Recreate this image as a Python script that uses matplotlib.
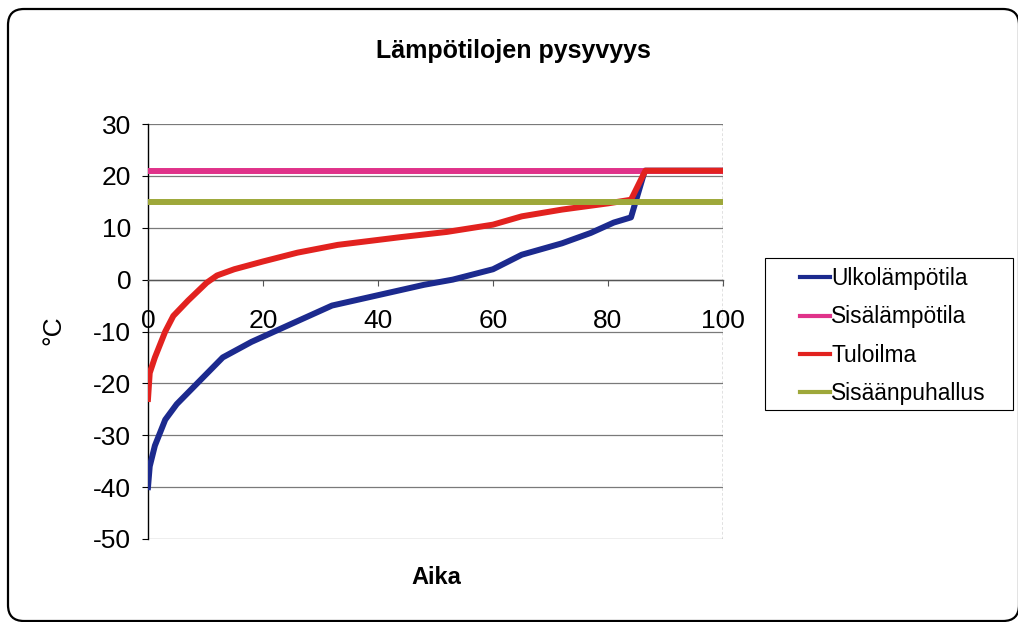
import matplotlib
matplotlib.use("Agg")
import matplotlib.pyplot as plt
from matplotlib.patches import FancyBboxPatch, Rectangle

plt.rcParams['font.family'] = ['Liberation Sans', 'DejaVu Sans']
plt.rcParams['axes.unicode_minus'] = False

# Duration curves (share of time, %) and temperatures (°C)
aika_ulko = [0, 0.3, 1.2, 3, 5, 9, 13, 18, 22, 26, 32, 40, 48, 53, 60, 65, 72, 77, 81, 84, 86.4, 100]
ulkolampotila = [-40, -36, -32, -27, -24, -19.5, -15, -12, -10, -8, -5, -3, -1, 0, 2, 4.8, 7, 9, 11, 12, 21, 21]

aika_tulo = [0, 0.3, 1.2, 3, 4.4, 7, 10.2, 12, 15, 20, 26, 33, 44, 52, 60, 65, 72, 80, 84, 86.5, 100]
tuloilma = [-23, -18, -15, -10, -7, -4, -0.6, 0.8, 2, 3.5, 5.2, 6.7, 8.2, 9.2, 10.6, 12.2, 13.5, 14.7, 15.4, 21, 21]

aika_vakio = [0, 100]
sisalampotila = [21, 21]
sisaanpuhallus = [15, 15]

x_ticks = [0, 20, 40, 60, 80, 100]
y_ticks = [30, 20, 10, 0, -10, -20, -30, -40, -50]

W, H = 1018, 622
fig = plt.figure(figsize=(W / 100, H / 100), dpi=100)
fig.patch.set_facecolor('white')

# background layer in pixel units for the rounded chart frame and legend box
bg = fig.add_axes([0, 0, 1, 1], zorder=-1)
bg.set_xlim(0, W)
bg.set_ylim(H, 0)
bg.axis('off')
bg.add_patch(FancyBboxPatch((8, 9), 1011, 612, boxstyle="round,pad=0,rounding_size=16",
                            fill=False, edgecolor='black', linewidth=1.6, clip_on=False))

ax = fig.add_axes([148 / W, 1 - 539 / H, 575 / W, 415 / H])
ax.set_xlim(0, 100)
ax.set_ylim(-50, 30)

for y in y_ticks:
    ax.axhline(y, color='#7a7a7a', linewidth=0.9, zorder=1)
ax.axvline(100, color='#6a6a6a', linewidth=1.0, linestyle=(0, (2, 1.5)), zorder=1)

lw = 4.3
ax.plot(aika_ulko, ulkolampotila, color='#1c2a8e', linewidth=lw, label='Ulkolämpötila', zorder=3)
ax.plot(aika_vakio, sisalampotila, color='#e0338a', linewidth=lw, label='Sisälämpötila', zorder=3)
ax.plot(aika_tulo, tuloilma, color='#e2221f', linewidth=lw, label='Tuloilma', zorder=3)
ax.plot(aika_vakio, sisaanpuhallus, color='#9ea83a', linewidth=lw, label='Sisäänpuhallus', zorder=3)

for side in ['top', 'right']:
    ax.spines[side].set_visible(False)
ax.spines['left'].set_color('black')
ax.spines['left'].set_linewidth(1.0)
ax.spines['bottom'].set_position(('data', 0))
ax.spines['bottom'].set_color('#555555')
ax.spines['bottom'].set_linewidth(1.0)

ax.set_xticks(x_ticks)
ax.set_yticks(y_ticks)
ax.tick_params(axis='x', direction='out', length=4, pad=17, labelsize=19, color='#555555')
ax.tick_params(axis='y', direction='out', length=4, pad=8, labelsize=19)

fig.text(513 / W, 1 - 51 / H, 'Lämpötilojen pysyvyys', ha='center', va='center',
         fontsize=18, fontweight='bold')
fig.text(436 / W, 1 - 578 / H, 'Aika', ha='center', va='center',
         fontsize=17, fontweight='bold')
fig.text(53 / W, 1 - 330 / H, '°C', ha='center', va='center', rotation=90,
         fontsize=19)

# legend box drawn separately, entries placed inside it
bg.add_patch(Rectangle((765, 258), 248, 152, fill=False, edgecolor='black', linewidth=0.8))
leg = ax.legend(loc='upper left', bbox_to_anchor=(800 / W, 1 - 267 / H),
                bbox_transform=fig.transFigure, borderaxespad=0, borderpad=0,
                fontsize=16.4, frameon=False, handlelength=1.3,
                handletextpad=0.08, labelspacing=0.68)
for h in leg.get_lines():
    h.set_linewidth(3)

fig.savefig('out.png', dpi=100)
